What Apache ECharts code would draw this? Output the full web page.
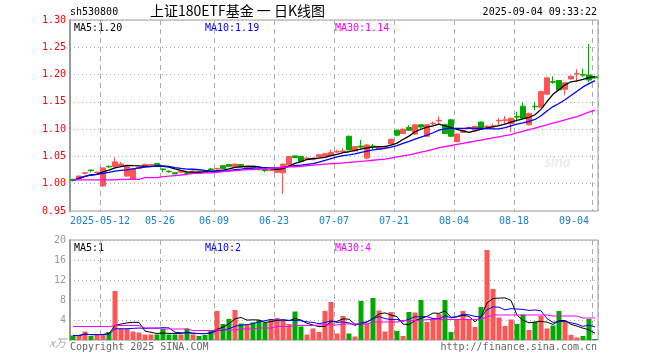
<!DOCTYPE html>
<html><head><meta charset="utf-8">
<script src="https://cdn.jsdelivr.net/npm/echarts@6/dist/echarts.min.js"></script>
<style>html,body{margin:0;padding:0;background:#fff}#c{width:660px;height:360px}</style>
</head><body><div id="c"></div>
<script>
const dates = ['2025-04-30',
'2025-05-06','2025-05-07','2025-05-08','2025-05-09',
'2025-05-12','2025-05-13','2025-05-14','2025-05-15','2025-05-16',
'2025-05-19','2025-05-20','2025-05-21','2025-05-22','2025-05-23',
'2025-05-26','2025-05-27','2025-05-28','2025-05-29','2025-05-30',
'2025-06-03','2025-06-04','2025-06-05','2025-06-06',
'2025-06-09','2025-06-10','2025-06-11','2025-06-12','2025-06-13',
'2025-06-16','2025-06-17','2025-06-18','2025-06-19','2025-06-20',
'2025-06-23','2025-06-24','2025-06-25','2025-06-26','2025-06-27',
'2025-06-30','2025-07-01','2025-07-02','2025-07-03','2025-07-04',
'2025-07-07','2025-07-08','2025-07-09','2025-07-10','2025-07-11',
'2025-07-14','2025-07-15','2025-07-16','2025-07-17','2025-07-18',
'2025-07-21','2025-07-22','2025-07-23','2025-07-24','2025-07-25',
'2025-07-28','2025-07-29','2025-07-30','2025-07-31','2025-08-01',
'2025-08-04','2025-08-05','2025-08-06','2025-08-07','2025-08-08',
'2025-08-11','2025-08-12','2025-08-13','2025-08-14','2025-08-15',
'2025-08-18','2025-08-19','2025-08-20','2025-08-21','2025-08-22',
'2025-08-25','2025-08-26','2025-08-27','2025-08-28','2025-08-29',
'2025-09-01','2025-09-02','2025-09-03','2025-09-04'];

const opens = [1.008,1.009,1.019,1.025,1.020,0.996,1.032,1.031,1.033,1.014,
1.008,1.028,1.032,1.034,1.037,1.027,1.023,1.020,1.021,1.020,
1.021,1.022,1.023,1.027,1.027,1.033,1.035,1.031,1.035,1.030,
1.031,1.027,1.027,1.024,1.021,1.020,1.034,1.051,1.050,1.046,
1.044,1.049,1.050,1.051,1.058,1.059,1.087,1.060,1.069,1.047,
1.069,1.063,1.067,1.073,1.098,1.092,1.103,1.091,1.108,1.087,
1.110,1.115,1.108,1.117,1.077,1.094,1.102,1.098,1.113,1.104,
1.105,1.115,1.116,1.110,1.123,1.142,1.108,1.142,1.140,1.164,
1.187,1.189,1.173,1.192,1.201,1.200,1.199,1.196];
const closes = [1.006,1.014,1.020,1.024,1.021,1.029,1.031,1.040,1.036,1.031,
1.027,1.030,1.035,1.035,1.034,1.026,1.022,1.018,1.023,1.019,
1.023,1.021,1.022,1.026,1.028,1.028,1.032,1.036,1.031,1.032,
1.030,1.026,1.024,1.025,1.027,1.036,1.050,1.048,1.041,1.047,
1.045,1.053,1.055,1.057,1.059,1.060,1.062,1.068,1.067,1.071,
1.067,1.067,1.068,1.081,1.089,1.100,1.098,1.108,1.104,1.108,
1.111,1.116,1.092,1.087,1.091,1.098,1.103,1.105,1.101,1.105,
1.106,1.116,1.117,1.120,1.122,1.120,1.129,1.141,1.169,1.194,
1.186,1.172,1.185,1.197,1.202,1.199,1.190,1.194];
const lows = [1.004,1.008,1.017,1.021,1.018,0.994,1.029,1.030,1.032,1.013,
1.007,1.027,1.031,1.034,1.033,1.021,1.020,1.017,1.020,1.016,
1.020,1.019,1.021,1.025,1.026,1.027,1.031,1.030,1.030,1.029,
1.026,1.024,1.021,1.023,1.020,0.981,1.033,1.047,1.039,1.045,
1.043,1.048,1.049,1.050,1.056,1.057,1.061,1.059,1.064,1.045,
1.063,1.062,1.066,1.072,1.087,1.091,1.097,1.090,1.098,1.086,
1.107,1.108,1.091,1.086,1.076,1.093,1.100,1.097,1.100,1.102,
1.101,1.108,1.109,1.095,1.114,1.119,1.107,1.135,1.139,1.163,
1.183,1.171,1.162,1.191,1.187,1.196,1.186,1.192];
const highs = [1.009,1.015,1.021,1.026,1.022,1.030,1.033,1.048,1.040,1.032,
1.028,1.031,1.037,1.036,1.038,1.028,1.024,1.021,1.024,1.021,
1.024,1.023,1.024,1.029,1.029,1.034,1.036,1.037,1.036,1.033,
1.032,1.028,1.028,1.026,1.028,1.037,1.051,1.052,1.051,1.048,
1.047,1.054,1.056,1.062,1.062,1.065,1.088,1.069,1.080,1.073,
1.073,1.068,1.070,1.083,1.099,1.101,1.107,1.109,1.109,1.109,
1.114,1.123,1.110,1.118,1.092,1.099,1.105,1.106,1.114,1.108,
1.110,1.120,1.124,1.121,1.132,1.149,1.130,1.150,1.170,1.195,
1.197,1.190,1.186,1.198,1.210,1.211,1.256,1.198];

const volumes = [0.9,0.9,1.7,0.8,1.1,1.1,1.6,9.8,2.3,2.3,
1.7,1.5,1.1,1.1,1.1,2.2,1.1,1.1,1.1,2.3,
1.1,0.8,1.0,2.0,5.8,3.2,4.2,6.0,3.3,3.2,
3.5,4.0,3.5,4.2,4.4,4.0,3.2,5.7,2.7,1.1,
2.3,1.6,5.8,7.6,1.3,4.8,1.3,0.7,7.8,3.3,
8.4,5.9,1.7,5.6,1.8,0.8,5.6,5.5,8.0,3.6,
4.3,5.2,8.0,1.6,4.1,5.8,4.1,2.6,6.6,18.0,
10.2,4.5,2.8,4.1,3.2,5.1,2.0,3.6,4.8,2.3,
2.9,5.8,3.7,1.0,0.5,0.8,4.2,0.2];

const ma30Price = [1.007,1.007,1.007,1.007,1.007,1.007,1.007,1.007,1.008,1.008,
1.008,1.008,1.011,1.011,1.011,1.013,1.014,1.015,1.016,1.017,
1.019,1.019,1.020,1.020,1.021,1.022,1.023,1.024,1.025,1.026,
1.026,1.027,1.027,1.028,1.029,1.030,1.031,1.031,1.032,1.033,
1.034,1.035,1.036,1.037,1.037,1.038,1.039,1.040,1.041,1.042,
1.043,1.044,1.045,1.047,1.049,1.051,1.053,1.055,1.058,1.060,
1.063,1.066,1.068,1.070,1.072,1.074,1.076,1.078,1.080,1.082,
1.084,1.086,1.088,1.090,1.093,1.096,1.099,1.102,1.105,1.108,
1.111,1.114,1.117,1.120,1.123,1.127,1.131,1.135];
const ma30Vol = [2.7,2.7,2.7,2.7,2.7,2.7,2.7,2.9,2.9,2.9,
2.9,2.9,2.4,2.4,2.4,2.2,2.2,2.2,2.2,2.2,
1.9,1.9,1.9,1.9,2.0,2.0,2.0,2.0,2.2,2.2,
2.2,2.4,2.4,2.4,2.7,2.7,2.7,2.9,2.9,2.9,
2.9,3.0,3.0,3.0,3.0,3.2,3.2,3.2,3.2,3.2,
3.6,3.6,3.6,3.6,3.6,3.9,3.9,3.9,3.9,4.1,
4.1,4.1,4.1,4.1,4.1,4.1,4.1,4.1,4.1,4.6,
5.0,5.0,5.0,5.0,5.0,5.0,5.0,5.0,5.0,5.0,
4.8,4.8,4.8,4.8,4.8,4.4,4.4,4.4];

const xTicks = ['2025-05-12','2025-05-26','2025-06-09','2025-06-23','2025-07-07','2025-07-21','2025-08-04','2025-08-18','2025-09-04'];
const priceMaLabels = ['MA5:1.20','MA10:1.19','MA30:1.14'];
const volMaLabels = ['MA5:1','MA10:2','MA30:4'];

function ma(arr, n){
  return arr.map((_, i) => {
    const s = Math.max(0, i - n + 1);
    let t = 0;
    for (let k = s; k <= i; k++) t += arr[k];
    return +(t / (i - s + 1)).toFixed(4);
  });
}
const UP = '#ff5555', DOWN = '#00a800';
const mono = '"DejaVu Sans Mono","Liberation Mono",monospace';
const tickIdx = xTicks.map(d => dates.indexOf(d));
const lastIdx = dates.length - 1;
const xData = dates.map((d, i) => i === lastIdx ? {value: d, textStyle: {align: 'right'}} : d);
const kData = dates.map((_, i) => [opens[i], closes[i], lows[i], highs[i]]);
const volData = volumes.map((v, i) => ({value: v, itemStyle: {color: closes[i] >= opens[i] ? UP : DOWN}}));
const showTick = (i) => tickIdx.indexOf(i) >= 0;

const splitX = {show: true, interval: showTick, lineStyle: {color: '#aaaaaa', type: [5, 4], width: 1}};
const chart = echarts.init(document.getElementById('c'), null, {renderer: 'canvas'});
chart.setOption({
  animation: false,
  backgroundColor: '#fff',
  grid: [
    {left: 70, top: 20, width: 528, height: 191, show: true, borderColor: '#a0a0a0', borderWidth: 1},
    {left: 70, top: 240, width: 528, height: 100, show: true, borderColor: '#a0a0a0', borderWidth: 1}
  ],
  xAxis: [
    {type: 'category', gridIndex: 0, data: xData, boundaryGap: true,
     axisLine: {show: false}, axisTick: {show: false},
     axisLabel: {interval: showTick, color: '#1a80d0', fontFamily: mono, fontSize: 10, margin: 5,
       padding: [0, 6, 0, 0],
       formatter: (v) => v === xTicks[0] ? v : v.slice(5)},
     splitLine: splitX},
    {type: 'category', gridIndex: 1, data: dates, boundaryGap: true,
     axisLine: {show: false}, axisTick: {show: false}, axisLabel: {show: false},
     splitLine: splitX}
  ],
  yAxis: [
    {type: 'value', gridIndex: 0, min: 0.95, max: 1.30, interval: 0.05,
     axisLine: {show: true, lineStyle: {color: '#999', width: 2}}, axisTick: {show: false},
     axisLabel: {color: '#ff0000', fontFamily: mono, fontSize: 10, margin: 4, formatter: v => v.toFixed(2)},
     splitLine: {show: true, lineStyle: {color: '#aaaaaa', type: [1, 3], width: 1}}},
    {type: 'value', gridIndex: 1, min: 0, max: 20, interval: 4,
     axisLine: {show: true, lineStyle: {color: '#999', width: 2}}, axisTick: {show: false},
     axisLabel: {color: '#999', fontFamily: mono, fontSize: 10, margin: 4,
       formatter: v => v === 0 ? '{u|x万}' : String(v),
       rich: {u: {fontStyle: 'italic', color: '#aaa', fontSize: 11, fontFamily: '"Noto Sans CJK SC"', padding: [6, 0, 0, 0]}}},
     splitLine: {show: true, lineStyle: {color: '#aaaaaa', type: [1, 3], width: 1}}}
  ],
  series: [
    {type: 'candlestick', xAxisIndex: 0, yAxisIndex: 0, data: kData, barWidth: 5,
     itemStyle: {color: UP, color0: DOWN, borderColor: UP, borderColor0: DOWN, borderWidth: 1}, z: 2},
    {type: 'line', xAxisIndex: 0, yAxisIndex: 0, data: ma(closes, 5), symbol: 'none', lineStyle: {color: '#000', width: 1.3}, z: 3},
    {type: 'line', xAxisIndex: 0, yAxisIndex: 0, data: ma(closes, 10), symbol: 'none', lineStyle: {color: '#0000ff', width: 1.3}, z: 3},
    {type: 'line', xAxisIndex: 0, yAxisIndex: 0, data: ma30Price, symbol: 'none', lineStyle: {color: '#ff00ff', width: 1.3}, z: 3},
    {type: 'bar', xAxisIndex: 1, yAxisIndex: 1, data: volData, barWidth: 5, z: 2},
    {type: 'line', xAxisIndex: 1, yAxisIndex: 1, data: ma(volumes, 5), symbol: 'none', lineStyle: {color: '#000', width: 1}, z: 3},
    {type: 'line', xAxisIndex: 1, yAxisIndex: 1, data: ma(volumes, 10), symbol: 'none', lineStyle: {color: '#0000ff', width: 1}, z: 3},
    {type: 'line', xAxisIndex: 1, yAxisIndex: 1, data: ma30Vol, symbol: 'none', lineStyle: {color: '#ff00ff', width: 1}, z: 3}
  ],
  graphic: [
    {type: 'text', left: 70, top: 7, style: {text: 'sh530800', fontFamily: mono, fontSize: 10, fill: '#000'}},
    {type: 'text', left: 150, top: 4, style: {text: '上证180ETF基金 一 日K线图', fontFamily: '"Noto Sans CJK SC"', fontSize: 14, fill: '#000'}},
    {type: 'text', right: 63, top: 7, style: {text: '2025-09-04 09:33:22', fontFamily: mono, fontSize: 10, fill: '#000'}},
    {type: 'text', left: 74, top: 23, style: {text: priceMaLabels[0], fontFamily: mono, fontSize: 10, fill: '#000'}},
    {type: 'text', left: 205, top: 23, style: {text: priceMaLabels[1], fontFamily: mono, fontSize: 10, fill: '#0000ff'}},
    {type: 'text', left: 335, top: 23, style: {text: priceMaLabels[2], fontFamily: mono, fontSize: 10, fill: '#ff00ff'}},
    {type: 'text', left: 74, top: 243, style: {text: volMaLabels[0], fontFamily: mono, fontSize: 10, fill: '#000'}},
    {type: 'text', left: 205, top: 243, style: {text: volMaLabels[1], fontFamily: mono, fontSize: 10, fill: '#0000ff'}},
    {type: 'text', left: 335, top: 243, style: {text: volMaLabels[2], fontFamily: mono, fontSize: 10, fill: '#ff00ff'}},
    {type: 'text', left: 70, top: 342, style: {text: 'Copyright 2025 SINA.COM', fontFamily: mono, fontSize: 10, fill: '#666'}},
    {type: 'text', right: 63, top: 342, style: {text: 'http://finance.sina.com.cn', fontFamily: mono, fontSize: 10, fill: '#666'}},
    {type: 'text', left: 545, top: 155, z: 0, style: {text: 'sina', fontFamily: 'Lato', fontStyle: 'italic', fontWeight: 'bold', fontSize: 15, fill: '#ececec'}}
  ]
});
</script></body></html>
